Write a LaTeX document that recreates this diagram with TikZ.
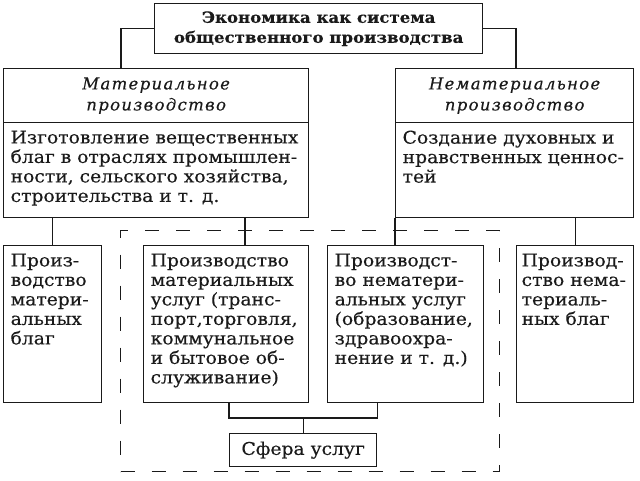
\documentclass[tikz,border=0pt]{standalone}
\usepackage{fontspec}
\setmainfont{DejaVu Serif}[FakeStretch=1.07, FakeBold=0.3]
\newfontfamily\cursiva{DejaVu Serif}[LetterSpace=8, FakeBold=0.3]
\usepackage{tikz}
\usetikzlibrary{positioning,calc}
\definecolor{tinta}{HTML}{1A1A1A}

\begin{document}
\begin{tikzpicture}[
  x=1pt, y=-1pt, color=tinta,
  font=\fontsize{17.5}{19.5}\selectfont,
  caja/.style={draw, line width=1.3pt, anchor=north west, inner xsep=7pt, inner ysep=8pt},
  cabeza/.style={draw, line width=1.3pt, anchor=north west, align=center, inner sep=0pt},
  rubro/.style={cabeza, font=\cursiva\itshape\fontsize{16.5}{21}\selectfont},
  linea/.style={line width=1.3pt},
  marco/.style={draw, line width=1.3pt, dash pattern=on 14pt off 17pt, anchor=north west, inner sep=0pt}
]
  \useasboundingbox[fill=white] (0,0) rectangle (640,480);
  \node[cabeza, minimum width=328pt, minimum height=50pt, font=\fontsize{15.5}{20}\selectfont] (eco) at (154,3) {\textbf{Экономика как система}\\\textbf{общественного производства}};
  \node[rubro, minimum width=305pt, minimum height=54pt] (matH) at (3,68) {Материальное\\производство};
  \node[caja] (matB) at (3,122) {\parbox[c][79pt][t]{291pt}{\raggedright Изготовление вещественных\\благ в отраслях промышлен-\\ности, сельского хозяйства,\\строительства и т. д.}};
  \node[rubro, minimum width=238pt, minimum height=54pt] (inmH) at (395,68) {Нематериальное\\производство};
  \node[caja] (inmB) at (395,122) {\parbox[c][79pt][t]{224pt}{\raggedright Создание духовных и\\нравственных ценнос-\\тей}};
  \node[marco, minimum width=379pt, minimum height=241pt] (serv) at (120,230) {};
  \node[caja] (b1) at (3,245) {\parbox[c][141pt][t]{84pt}{\raggedright Произ-\\водство\\матери-\\альных\\благ}};
  \node[caja] (b2) at (143,245) {\parbox[c][141pt][t]{151pt}{\raggedright Производство\\материальных\\услуг (транс-\\порт,торговля,\\коммунальное\\и бытовое об-\\служивание)}};
  \node[caja] (b3) at (327,245) {\parbox[c][141pt][t]{142pt}{\raggedright Производст-\\во нематери-\\альных услуг\\(образование,\\здравоохра-\\нение и т. д.)}};
  \node[caja, inner xsep=5pt] (b4) at (516,245) {\parbox[c][141pt][t]{107pt}{\raggedright \mbox{Производ-}\\\mbox{ство нема-}\\\mbox{териаль-}\\\mbox{ных благ}}};
  \node[cabeza, minimum width=147pt, minimum height=33pt] (sfera) at (229,433) {Сфера услуг};
  \coordinate (d2) at ([xshift=102pt]b2.north west);
  \coordinate (brk) at ($(sfera.north)+(0,-15)$);
  \draw[linea] (eco.west) -| ([xshift=118pt]matH.north west);
  \draw[linea] (eco.east) -| ([xshift=121pt]inmH.north west);
  \draw[linea] (b1.north) -- (b1.north |- matB.south);
  \draw[linea] (d2) -- (d2 |- matB.south);
  \draw[linea] (inmB.south west) -- (inmB.south west |- b3.north);
  \draw[linea] (b4.north) -- (b4.north |- inmB.south);
  \draw[linea] (b2.south -| sfera.west) |- (brk) -| (b3.south -| sfera.east);
  \draw[linea] (brk) -- (sfera.north);
\end{tikzpicture}
\end{document}
